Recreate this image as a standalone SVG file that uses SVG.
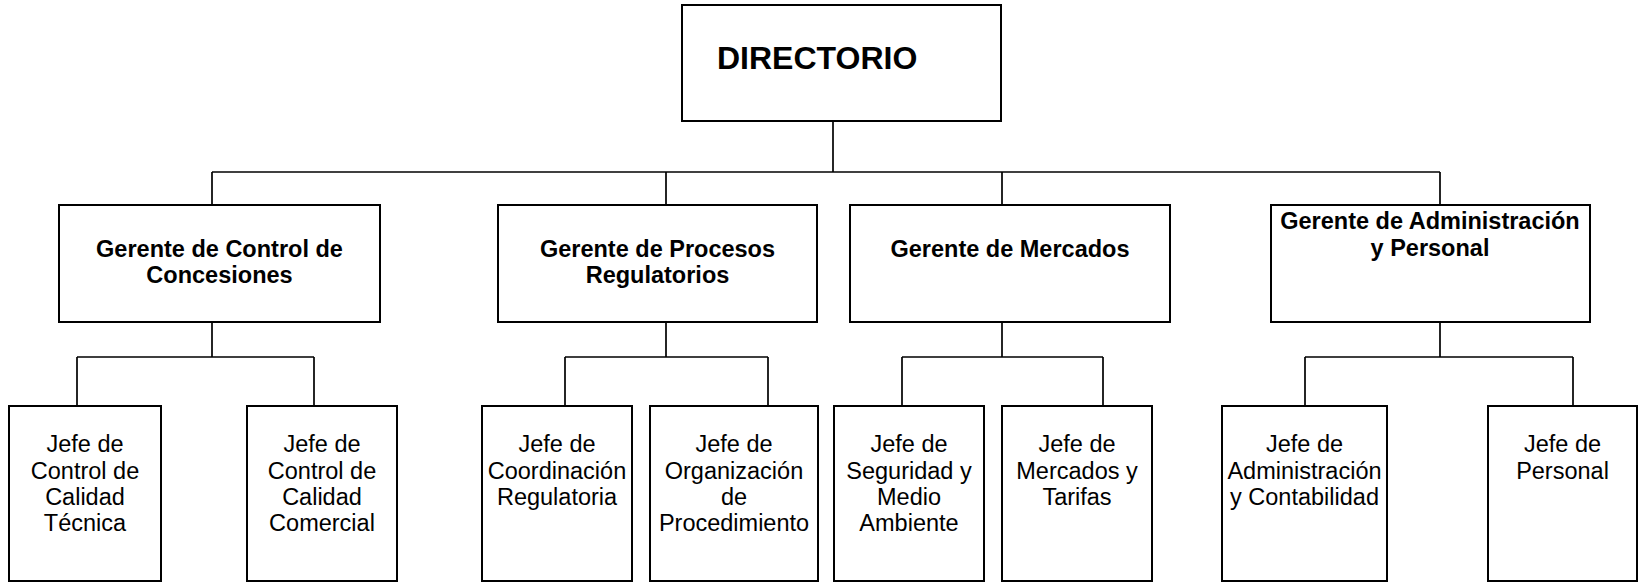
<svg xmlns="http://www.w3.org/2000/svg" width="1638" height="583" viewBox="0 0 1638 583">
  <style>
    .box { fill: #ffffff; stroke: #000000; stroke-width: 2; }
    .conn { fill: none; stroke: #000000; stroke-width: 1.7; }
    .title { font-family: "Liberation Sans", Arial, sans-serif; font-weight: bold; font-size: 32px; fill: #000; }
    .ger { font-family: "Liberation Sans", Arial, sans-serif; font-weight: bold; font-size: 23.5px; fill: #000; text-anchor: middle; }
    .jefe { font-family: "Liberation Sans", Arial, sans-serif; font-size: 23.5px; fill: #000; text-anchor: middle; }
  </style>
  <rect width="1638" height="583" fill="#ffffff"/>

  <g id="connectors">
    <path class="conn" d="M833 121 V172"/>
    <path class="conn" d="M212 172 H1440"/>
    <path class="conn" d="M212 172 V205 M666 172 V205 M1002 172 V205 M1440 172 V205"/>
    <path class="conn" d="M212 322 V357 M77 357 H314 M77 357 V406 M314 357 V406"/>
    <path class="conn" d="M666 322 V357 M565 357 H768 M565 357 V406 M768 357 V406"/>
    <path class="conn" d="M1002 322 V357 M902 357 H1103 M902 357 V406 M1103 357 V406"/>
    <path class="conn" d="M1440 322 V357 M1305 357 H1573 M1305 357 V406 M1573 357 V406"/>
  </g>

  <g id="directorio">
    <rect class="box" x="682" y="5" width="319" height="116"/>
    <text class="title" x="717" y="69">DIRECTORIO</text>
  </g>

  <g id="gerente-control">
    <rect class="box" x="59" y="205" width="321" height="117"/>
    <text class="ger" x="219.5" y="256.5">Gerente de Control de</text>
    <text class="ger" x="219.5" y="283">Concesiones</text>
  </g>
  <g id="gerente-procesos">
    <rect class="box" x="498" y="205" width="319" height="117"/>
    <text class="ger" x="657.5" y="256.5">Gerente de Procesos</text>
    <text class="ger" x="657.5" y="283">Regulatorios</text>
  </g>
  <g id="gerente-mercados">
    <rect class="box" x="850" y="205" width="320" height="117"/>
    <text class="ger" x="1010" y="256.5">Gerente de Mercados</text>
  </g>
  <g id="gerente-administracion">
    <rect class="box" x="1271" y="205" width="319" height="117"/>
    <text class="ger" x="1430" y="228.5">Gerente de Administración</text>
    <text class="ger" x="1430" y="255.5">y Personal</text>
  </g>

  <g id="jefe-calidad-tecnica">
    <rect class="box" x="9" y="406" width="152" height="175"/>
    <text class="jefe" x="85" y="452">Jefe de</text>
    <text class="jefe" x="85" y="478.5">Control de</text>
    <text class="jefe" x="85" y="505">Calidad</text>
    <text class="jefe" x="85" y="531">Técnica</text>
  </g>
  <g id="jefe-calidad-comercial">
    <rect class="box" x="247" y="406" width="150" height="175"/>
    <text class="jefe" x="322" y="452">Jefe de</text>
    <text class="jefe" x="322" y="478.5">Control de</text>
    <text class="jefe" x="322" y="505">Calidad</text>
    <text class="jefe" x="322" y="531">Comercial</text>
  </g>
  <g id="jefe-coordinacion">
    <rect class="box" x="482" y="406" width="150" height="175"/>
    <text class="jefe" x="557" y="452">Jefe de</text>
    <text class="jefe" x="557" y="478.5">Coordinación</text>
    <text class="jefe" x="557" y="505">Regulatoria</text>
  </g>
  <g id="jefe-organizacion">
    <rect class="box" x="650" y="406" width="168" height="175"/>
    <text class="jefe" x="734" y="452">Jefe de</text>
    <text class="jefe" x="734" y="478.5">Organización</text>
    <text class="jefe" x="734" y="505">de</text>
    <text class="jefe" x="734" y="531">Procedimiento</text>
  </g>
  <g id="jefe-seguridad">
    <rect class="box" x="834" y="406" width="150" height="175"/>
    <text class="jefe" x="909" y="452">Jefe de</text>
    <text class="jefe" x="909" y="478.5">Seguridad y</text>
    <text class="jefe" x="909" y="505">Medio</text>
    <text class="jefe" x="909" y="531">Ambiente</text>
  </g>
  <g id="jefe-mercados">
    <rect class="box" x="1002" y="406" width="150" height="175"/>
    <text class="jefe" x="1077" y="452">Jefe de</text>
    <text class="jefe" x="1077" y="478.5">Mercados y</text>
    <text class="jefe" x="1077" y="505">Tarifas</text>
  </g>
  <g id="jefe-administracion">
    <rect class="box" x="1222" y="406" width="165" height="175"/>
    <text class="jefe" x="1304.5" y="452">Jefe de</text>
    <text class="jefe" x="1304.5" y="478.5">Administración</text>
    <text class="jefe" x="1304.5" y="505">y Contabilidad</text>
  </g>
  <g id="jefe-personal">
    <rect class="box" x="1488" y="406" width="149" height="175"/>
    <text class="jefe" x="1562.5" y="452">Jefe de</text>
    <text class="jefe" x="1562.5" y="478.5">Personal</text>
  </g>
</svg>
